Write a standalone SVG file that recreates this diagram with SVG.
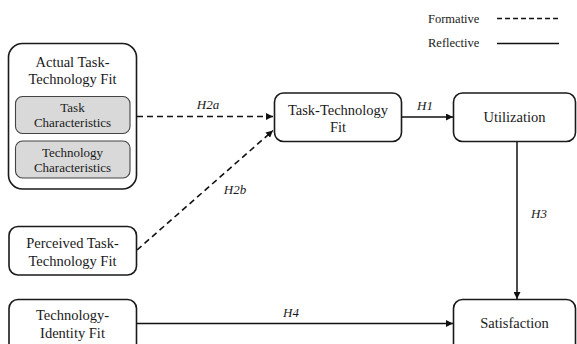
<svg xmlns="http://www.w3.org/2000/svg" width="577" height="344" viewBox="0 0 577 344">
  <style>
    .box { fill: #ffffff; stroke: #1a1a1a; stroke-width: 1.6; }
    .inner { fill: #d9d9d9; stroke: #444444; stroke-width: 1.1; }
    text { font-family: 'Liberation Serif', 'Times New Roman', Times, 'DejaVu Serif', serif; fill: #1a1a1a; }
    .lbl { font-size: 14.5px; text-anchor: middle; }
    .sm { font-size: 13px; text-anchor: middle; }
    .hyp { font-size: 13px; font-style: italic; text-anchor: middle; }
    .leg { font-size: 12.5px; }
    .solid { fill: none; stroke: #111111; stroke-width: 1.5; }
    .dash { fill: none; stroke: #111111; stroke-width: 1.6; stroke-dasharray: 6 4; }
  </style>
  <defs>
    <marker id="arrow" viewBox="0 0 10 10" refX="10" refY="5" markerWidth="7" markerHeight="7" markerUnits="userSpaceOnUse" orient="auto">
      <path d="M0,0 L10,5 L0,10 Z" fill="#111111"/>
    </marker>
  </defs>

  <rect width="577" height="344" fill="#ffffff"/>

  <!-- legend -->
  <g id="legend">
    <text class="leg" x="428" y="23">Formative</text>
    <line x1="497" y1="18.5" x2="559" y2="18.5" stroke="#111" stroke-width="1.3" stroke-dasharray="5 3"/>
    <text class="leg" x="428" y="47">Reflective</text>
    <line x1="497" y1="43.5" x2="559" y2="43.5" stroke="#111" stroke-width="1.5"/>
  </g>

  <!-- connectors -->
  <g id="connectors">
    <line class="dash" x1="137" y1="116.5" x2="273" y2="116.5" marker-end="url(#arrow)"/>
    <line class="dash" x1="137" y1="250" x2="273" y2="130.5" marker-end="url(#arrow)"/>
    <line class="solid" x1="402" y1="117" x2="453" y2="117" marker-end="url(#arrow)"/>
    <line class="solid" x1="517" y1="142" x2="517" y2="299" marker-end="url(#arrow)"/>
    <line class="solid" x1="137" y1="323.5" x2="453" y2="323.5" marker-end="url(#arrow)"/>
    <text class="hyp" x="208" y="109">H2a</text>
    <text class="hyp" x="235" y="194">H2b</text>
    <text class="hyp" x="425" y="110">H1</text>
    <text class="hyp" x="539" y="218">H3</text>
    <text class="hyp" x="291" y="317">H4</text>
  </g>

  <!-- actual task-technology fit (with its two components) -->
  <g id="actual-ttf">
    <rect class="box" x="8.5" y="43.5" width="128" height="145.5" rx="14"/>
    <text class="lbl" x="72.5" y="67">Actual Task-</text>
    <text class="lbl" x="72.5" y="84">Technology Fit</text>
  </g>
  <g id="task-characteristics">
    <rect class="inner" x="15.5" y="96.5" width="114.5" height="37" rx="7"/>
    <text class="sm" x="72.5" y="112">Task</text>
    <text class="sm" x="72.5" y="127">Characteristics</text>
  </g>
  <g id="technology-characteristics">
    <rect class="inner" x="15.5" y="141" width="114.5" height="37" rx="7"/>
    <text class="sm" x="72.5" y="156.5">Technology</text>
    <text class="sm" x="72.5" y="171.5">Characteristics</text>
  </g>

  <g id="perceived-ttf">
    <rect class="box" x="9" y="226.5" width="127.5" height="48.5" rx="9"/>
    <text class="lbl" x="72.5" y="247.5">Perceived Task-</text>
    <text class="lbl" x="72.5" y="266">Technology Fit</text>
  </g>

  <g id="technology-identity-fit">
    <rect class="box" x="9" y="299.5" width="127.5" height="55" rx="9"/>
    <text class="lbl" x="72.5" y="319.5">Technology-</text>
    <text class="lbl" x="72.5" y="338">Identity Fit</text>
  </g>

  <g id="ttf">
    <rect class="box" x="274.5" y="93" width="127" height="48.5" rx="9"/>
    <text class="lbl" x="338" y="114.5">Task-Technology</text>
    <text class="lbl" x="338" y="131.5">Fit</text>
  </g>

  <g id="utilization">
    <rect class="box" x="453.5" y="93" width="122" height="48.5" rx="9"/>
    <text class="lbl" x="514.5" y="122">Utilization</text>
  </g>

  <g id="satisfaction">
    <rect class="box" x="453.5" y="299.5" width="122" height="55" rx="9"/>
    <text class="lbl" x="514.5" y="328">Satisfaction</text>
  </g>
</svg>
